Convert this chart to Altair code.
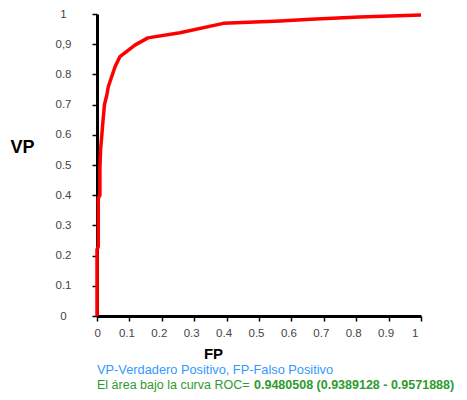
import altair as alt
import pandas as pd

fp = [0, 0, 0.004, 0.004, 0.009, 0.009, 0.011, 0.015, 0.018, 0.023, 0.030, 0.035,
      0.056, 0.071, 0.117, 0.157, 0.256, 0.39, 0.565, 0.66, 0.81, 1.0]
vp = [0, 0.22, 0.23, 0.39, 0.40, 0.49, 0.55, 0.60, 0.64, 0.70, 0.73, 0.76,
      0.826, 0.859, 0.897, 0.921, 0.938, 0.969, 0.977, 0.983, 0.99, 0.997]
ticks = [0, 0.1, 0.2, 0.3, 0.4, 0.5, 0.6, 0.7, 0.8, 0.9, 1]
legend_text = "VP-Verdadero Positivo, FP-Falso Positivo"
auc_text = "El área bajo la curva ROC= "
auc_value = "0.9480508 (0.9389128 - 0.9571888)"

df = pd.DataFrame({"fp": fp, "vp": vp, "order": list(range(len(fp)))})

FONT = "Liberation Sans"

line = alt.Chart(df).mark_line(color="#ff0000", strokeWidth=3.5, strokeJoin="round").encode(
    x=alt.X("fp:Q", scale=alt.Scale(domain=[0, 1], nice=False),
            axis=alt.Axis(values=ticks, format=".1~f", title="FP", grid=False,
                          domainColor="black", domainWidth=3, tickColor="black",
                          tickWidth=1.5, tickSize=5, labelPadding=6, labelOffset=-3,
                          labelFont=FONT, labelFontSize=11.5, labelColor="#444",
                          titleFont=FONT, titleFontSize=15, titleFontWeight="bold",
                          titleColor="black", titleX=116, titleY=37,
                          titleBaseline="middle", titleAlign="center")),
    y=alt.Y("vp:Q", scale=alt.Scale(domain=[0, 1], nice=False),
            axis=alt.Axis(values=ticks, format=".1~f",
                          labelExpr="datum.value == 0.9 ? '0,9' : datum.label",
                          title="VP", grid=False, domainColor="black", domainWidth=3,
                          tickColor="black", tickWidth=1.5, tickSize=5,
                          labelAlign="center", labelPadding=29,
                          labelFont=FONT, labelFontSize=11.5, labelColor="#444",
                          titleFont=FONT, titleFontSize=18, titleFontWeight="bold",
                          titleColor="black", titleAngle=0, titleX=-75, titleY=133,
                          titleBaseline="middle", titleAlign="center")),
    order="order:Q",
)

legend = alt.Chart(pd.DataFrame({"t": [legend_text]})).mark_text(
    align="left", baseline="middle", font=FONT, fontSize=12.8, color="#3399ff"
).encode(x=alt.value(0), y=alt.value(356), text="t:N")

auc1 = alt.Chart(pd.DataFrame({"t": [auc_text]})).mark_text(
    align="left", baseline="middle", font=FONT, fontSize=12.5, color="#2e9a2e"
).encode(x=alt.value(0), y=alt.value(371), text="t:N")

auc2 = alt.Chart(pd.DataFrame({"t": [auc_value]})).mark_text(
    align="left", baseline="middle", font=FONT, fontSize=12.5, fontWeight="bold",
    color="#2e9a2e"
).encode(x=alt.value(157), y=alt.value(371), text="t:N")

chart = alt.layer(line, legend, auc1, auc2).properties(
    width=324, height=302,
    autosize=alt.AutoSizeParams(type="none"),
    padding={"left": 89, "top": 6, "right": 38, "bottom": 76},
).configure_view(stroke=None)

chart.save("out.html", embed_options={"renderer": "svg", "actions": False})
